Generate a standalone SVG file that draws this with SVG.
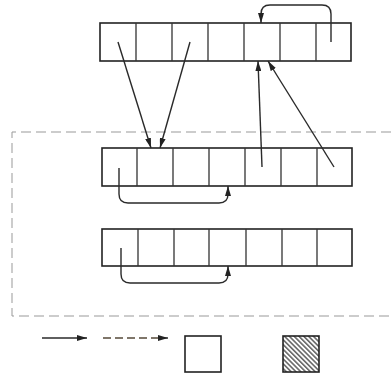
<svg xmlns="http://www.w3.org/2000/svg" width="391" height="374" viewBox="0 0 391 374">
<style>
.cell{fill:#fff;stroke:#222;stroke-width:1.6}
.div{stroke:#333;stroke-width:1.3}
.arr{fill:none;stroke:#2a2a2a;stroke-width:1.4;marker-end:url(#ah)}
.dash{fill:none;stroke:#999;stroke-width:1;stroke-dasharray:10 5}
</style>
<defs>
<marker id="ah" viewBox="0 0 10 6" refX="10" refY="3" markerWidth="10" markerHeight="6" markerUnits="userSpaceOnUse" orient="auto">
<path d="M0,0 L10,3 L0,6 z" fill="#222"/>
</marker>
<pattern id="hatch" patternUnits="userSpaceOnUse" width="3.4" height="3.4" patternTransform="rotate(-45)">
<rect width="3.4" height="3.4" fill="#fff"/>
<line x1="0.8" y1="0" x2="0.8" y2="3.4" stroke="#444" stroke-width="1.3"/>
</pattern>
</defs>
<rect width="391" height="374" fill="#fff"/>
<path class="dash" d="M391,132 H12 V316 H391"/>
<g id="array-top">
<rect class="cell" x="100" y="23" width="251" height="38"/>
<path class="div" d="M136,23V61 M172,23V61 M208,23V61 M244,23V61 M280,23V61 M316,23V61"/>
</g>
<g id="array-middle">
<rect class="cell" x="102" y="148" width="250" height="38"/>
<path class="div" d="M137,148V186 M173,148V186 M209,148V186 M245,148V186 M281,148V186 M317,148V186"/>
</g>
<g id="array-bottom">
<rect class="cell" x="102" y="229" width="250" height="37"/>
<path class="div" d="M138,229V266 M174,229V266 M209,229V266 M246,229V266 M282,229V266 M317,229V266"/>
</g>
<g id="connectors">
<path class="arr" d="M118,42 L151,148"/>
<path class="arr" d="M190,42 L160,148"/>
<path class="arr" d="M262,167 L258,61"/>
<path class="arr" d="M334,167 L268,61"/>
<path class="arr" d="M331,42 V14 Q331,5 322,5 H270 Q261,5 261,14 V23"/>
<path class="arr" d="M119,168 V194 Q119,203 128,203 H219 Q228,203 228,194 V186"/>
<path class="arr" d="M121,248 V274 Q121,283 130,283 H219 Q228,283 228,274 V266"/>
</g>
<g id="legend-solid">
<path class="arr" d="M42,338 H87"/>
</g>
<g id="legend-dashed">
<path d="M103,338 H160" fill="none" stroke="#554a3a" stroke-width="1.6" stroke-dasharray="8 4"/>
<path class="arr" d="M160,338 H168"/>
</g>
<g id="legend-empty">
<rect x="185" y="336" width="36" height="36" fill="#fff" stroke="#222" stroke-width="1.6"/>
</g>
<g id="legend-hatched">
<rect x="283" y="336" width="36" height="36" fill="url(#hatch)" stroke="#222" stroke-width="1.6"/>
</g>
</svg>
